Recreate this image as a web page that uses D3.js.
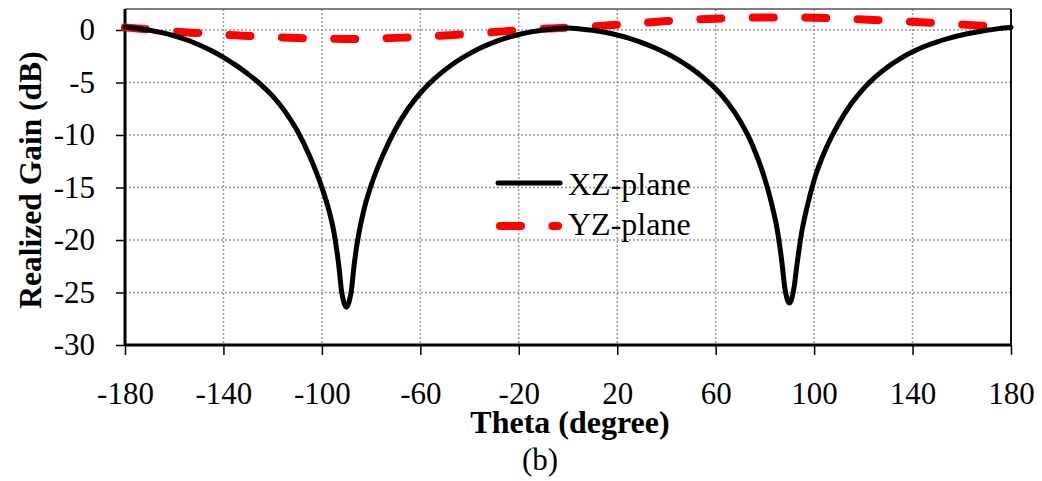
<!DOCTYPE html>
<html>
<head>
<meta charset="utf-8">
<script src="https://cdn.jsdelivr.net/npm/d3@7"></script>
<style>
  html, body { margin: 0; padding: 0; background: #fff; }
  svg { display: block; }
  text { font-family: "Liberation Serif", "Times New Roman", serif; fill: #000; }
</style>
</head>
<body>
<svg id="chart" width="1042" height="481"></svg>
<script>
// ---- data ----
const xzTheta = [-180,-175,-170,-165,-160,-155,-150,-145,-140,-135,-130,-125,-120,-115,-110,-105,-100,-97,-95,-94,-93,-92,-91,-90,-89,-88,-87,-86,-85,-83,-80,-75,-70,-65,-60,-55,-50,-45,-40,-35,-30,-25,-20,-15,-10,-5,
  0,5,10,15,20,25,30,35,40,45,50,55,60,65,70,75,80,83,85,86,87,88,89,90,91,92,93,94,95,97,100,105,110,115,120,125,130,135,140,145,150,155,160,165,170,175,180];
const xzGain = [0.28,0.15,-0.02,-0.25,-0.55,-0.93,-1.4,-1.95,-2.6,-3.35,-4.2,-5.15,-6.3,-7.75,-9.6,-12.0,-15.0,-17.3,-19.4,-20.9,-22.7,-24.9,-26.0,-26.4,-25.9,-24.8,-22.6,-20.8,-19.4,-17.2,-14.8,-11.8,-9.4,-7.5,-6.0,-4.8,-3.8,-2.95,-2.25,-1.65,-1.15,-0.75,-0.43,-0.18,0.0,0.12,
  0.18,0.1,-0.03,-0.22,-0.48,-0.8,-1.2,-1.67,-2.22,-2.87,-3.63,-4.53,-5.6,-6.95,-8.7,-11.0,-14.2,-16.8,-19.0,-20.5,-22.3,-24.4,-25.6,-26.0,-25.5,-24.3,-22.4,-20.7,-19.2,-17.0,-14.3,-11.2,-8.9,-7.05,-5.6,-4.45,-3.5,-2.72,-2.08,-1.55,-1.12,-0.77,-0.48,-0.24,-0.03,0.13,0.26];

const yzTheta = [-180,-170,-160,-150,-140,-130,-120,-110,-100,-90,-80,-70,-60,-50,-40,-30,-20,-10,0,10,20,30,40,50,60,70,80,90,100,110,120,130,140,150,160,170,180];
const yzGain = [0.25,0.05,-0.15,-0.3,-0.45,-0.57,-0.68,-0.76,-0.82,-0.85,-0.82,-0.75,-0.65,-0.52,-0.38,-0.2,-0.02,0.12,0.22,0.35,0.5,0.68,0.85,0.98,1.08,1.15,1.2,1.2,1.17,1.1,1.0,0.9,0.78,0.65,0.52,0.4,0.3];

const xTicks = [-180,-140,-100,-60,-20,20,60,100,140,180];
const yTicks = [0,-5,-10,-15,-20,-25,-30];
const seriesNames = ["XZ-plane","YZ-plane"];
const xTitle = "Theta (degree)";
const yTitle = "Realized Gain (dB)";
const caption = "(b)";

// ---- layout ----
const L = 125, R = 1011, T = 9, B = 345;
const svg = d3.select("#chart");
const x = d3.scaleLinear().domain([-180,180]).range([L,R]);
const y = d3.scaleLinear().domain([-30,2]).range([B,T]);

// grid
const grid = svg.append("g");
grid.selectAll("line.h").data(yTicks.filter(v => v > -30)).join("line")
  .attr("x1", L).attr("x2", R).attr("y1", d => y(d)).attr("y2", d => y(d))
  .attr("stroke", "#9a9a9a").attr("stroke-width", 1.5).attr("stroke-dasharray", "2,2");
grid.selectAll("line.v").data(xTicks.filter(v => v > -180 && v < 180)).join("line")
  .attr("x1", d => x(d)).attr("x2", d => x(d)).attr("y1", T).attr("y2", B)
  .attr("stroke", "#9a9a9a").attr("stroke-width", 1.5).attr("stroke-dasharray", "2,2");

// frame top/right
svg.append("line").attr("x1", L).attr("x2", R).attr("y1", T).attr("y2", T)
  .attr("stroke", "#555").attr("stroke-width", 1.5);
svg.append("line").attr("x1", R).attr("x2", R).attr("y1", T).attr("y2", B)
  .attr("stroke", "#111").attr("stroke-width", 2);

// axes
const fs = 31;
const fmt = d => String(d);
const xAxis = svg.append("g").attr("transform", `translate(0,${B})`)
  .call(d3.axisBottom(x).tickValues(xTicks).tickSize(10).tickPadding(27).tickFormat(fmt));
const yAxis = svg.append("g").attr("transform", `translate(${L},0)`)
  .call(d3.axisLeft(y).tickValues(yTicks).tickSize(9).tickPadding(21).tickFormat(fmt));
[xAxis, yAxis].forEach(a => {
  a.select(".domain").attr("stroke", "#000").attr("stroke-width", 3);
  a.selectAll(".tick line").attr("stroke", "#000").attr("stroke-width", 1.5);
  a.selectAll(".tick text").attr("font-family", '"Liberation Serif", serif').attr("font-size", fs).attr("fill", "#000");
});
xAxis.select(".domain").attr("d", `M${L},0H${R}`);
yAxis.select(".domain").attr("d", `M0,${T}V${B}`);

// lines
const line = d3.line().x(d => x(d[0])).y(d => y(d[1])).curve(d3.curveMonotoneX);
svg.append("path").datum(yzTheta.map((t,i) => [t, yzGain[i]]))
  .attr("d", line).attr("fill", "none").attr("stroke", "#ff0000")
  .attr("stroke-width", 8).attr("stroke-linecap", "round").attr("stroke-dasharray", "21,31.4");
svg.append("path").datum(xzTheta.map((t,i) => [t, xzGain[i]]))
  .attr("d", line).attr("fill", "none").attr("stroke", "#000")
  .attr("stroke-width", 5).attr("stroke-linecap", "round").attr("stroke-linejoin", "round");

// legend
const lg = svg.append("g");
lg.append("line").attr("x1", 498).attr("x2", 560).attr("y1", 183).attr("y2", 183)
  .attr("stroke", "#000").attr("stroke-width", 5).attr("stroke-linecap", "round");
lg.append("text").attr("x", 568).attr("y", 195).attr("font-size", 32).text(seriesNames[0]);
lg.append("line").attr("x1", 500).attr("x2", 558).attr("y1", 226).attr("y2", 226)
  .attr("stroke", "#ff0000").attr("stroke-width", 8).attr("stroke-linecap", "round").attr("stroke-dasharray", "21,31.4");
lg.append("text").attr("x", 568).attr("y", 235).attr("font-size", 32).text(seriesNames[1]);

// titles
svg.append("text").attr("x", 570).attr("y", 433).attr("text-anchor", "middle")
  .attr("font-size", 32).attr("font-weight", "bold").text(xTitle);
svg.append("text").attr("transform", "translate(41,180) rotate(-90)").attr("text-anchor", "middle")
  .attr("font-size", 31.5).attr("font-weight", "bold").text(yTitle);
svg.append("text").attr("x", 540).attr("y", 470).attr("text-anchor", "middle")
  .attr("font-size", 31).text(caption);
</script>
</body>
</html>
